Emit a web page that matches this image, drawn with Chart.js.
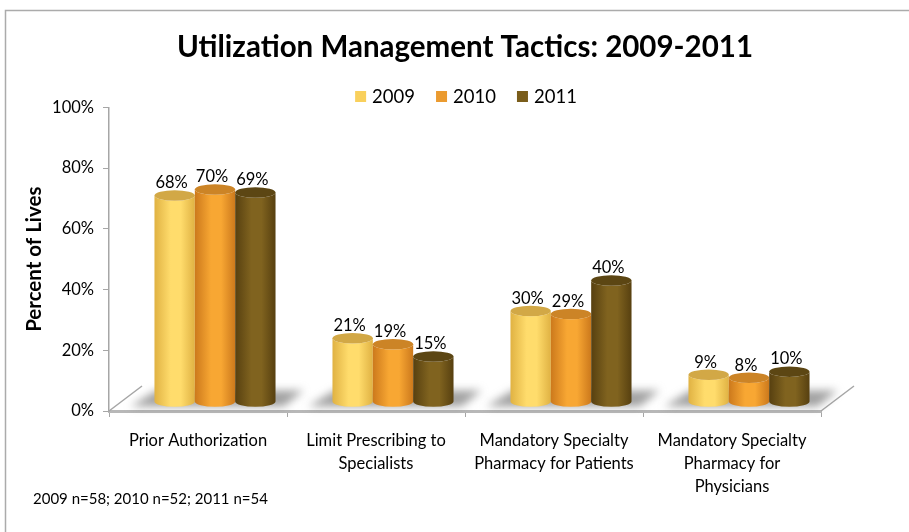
<!DOCTYPE html>
<html>
<head>
<meta charset="utf-8">
<script src="https://cdn.jsdelivr.net/npm/chart.js@4.4.1/dist/chart.umd.min.js"></script>
<style>
  html, body { margin: 0; padding: 0; background: #fff; }
  canvas { display: block; }
</style>
</head>
<body>
<canvas id="grafico" width="909" height="532"></canvas>
<script>
const categories = [
  ['Prior Authorization'],
  ['Limit Prescribing to', 'Specialists'],
  ['Mandatory Specialty', 'Pharmacy for Patients'],
  ['Mandatory Specialty', 'Pharmacy for', 'Physicians']
];
const years = ['2009', '2010', '2011'];
const values2009 = [68, 21, 30, 9];
const values2010 = [70, 19, 29, 8];
const values2011 = [69, 15, 40, 10];
const yTicks = [0, 20, 40, 60, 80, 100];

const FONT = 'Lato, "Open Sans", sans-serif';
const legendColors = ['#F9D05C', '#EB9B30', '#7A5D1B'];
const cylColors = [
  { light: '#FFDC6C', dark: '#E0B243', cap: '#D2A846' },
  { light: '#F8A733', dark: '#CC791C', cap: '#CC8426' },
  { light: '#80631F', dark: '#574010', cap: '#5C4613' }
];
// offset de profundidade (efeito 3D)
const DX = 17, DY = -9;

function desenharCilindro(ctx, cx, top, bottom, w, cor) {
  const rx = w / 2, ry = w * 0.13;
  const x0 = cx - rx;
  const g = ctx.createLinearGradient(x0, 0, x0 + w, 0);
  g.addColorStop(0, cor.dark);
  g.addColorStop(0.4, cor.light);
  g.addColorStop(0.65, cor.light);
  g.addColorStop(1, cor.dark);
  ctx.beginPath();
  ctx.moveTo(x0, top);
  ctx.lineTo(x0, bottom);
  ctx.ellipse(cx, bottom, rx, ry, 0, Math.PI, 0, true);
  ctx.lineTo(x0 + w, top);
  ctx.ellipse(cx, top, rx, ry, 0, 0, Math.PI, false);
  ctx.closePath();
  ctx.fillStyle = g;
  ctx.fill();
  ctx.beginPath();
  ctx.ellipse(cx, top, rx, ry, 0, 0, Math.PI * 2);
  ctx.fillStyle = cor.cap;
  ctx.fill();
}

const cilindros = {
  id: 'cilindros',
  beforeDraw(chart) {
    const ctx = chart.ctx;
    ctx.save();
    ctx.fillStyle = '#fff';
    ctx.fillRect(0, 0, chart.width, chart.height);
    ctx.strokeStyle = '#ababab';
    ctx.lineWidth = 1.5;
    ctx.strokeRect(5.5, 10.5, 1000, 1000);
    ctx.restore();
  },
  afterDatasetsDraw(chart) {
    const ctx = chart.ctx;
    const area = chart.chartArea;
    ctx.save();
    // laterais do piso
    ctx.strokeStyle = '#a6a6a6';
    ctx.lineWidth = 1.5;
    ctx.beginPath();
    ctx.moveTo(area.left, area.bottom);
    ctx.lineTo(area.left + 33, area.bottom - 25);
    ctx.moveTo(area.right, area.bottom);
    ctx.lineTo(area.right + 33, area.bottom - 25);
    ctx.stroke();

    const nSeries = years.length;
    for (let i = 0; i < categories.length; i++) {
      const first = chart.getDatasetMeta(0).data[i];
      const last = chart.getDatasetMeta(nSeries - 1).data[i];
      const x0 = first.x - first.width / 2 + DX;
      const x1 = last.x + last.width / 2 + DX;
      const base = first.base + DY;
      ctx.save();
      ctx.filter = 'blur(4px)';
      ctx.fillStyle = 'rgba(110,110,110,0.65)';
      ctx.beginPath();
      ctx.moveTo(x0 - 24, base + 5);
      ctx.lineTo(x1 + 8, base + 5);
      ctx.lineTo(x1 + 28, base - 11);
      ctx.lineTo(x0 + 2, base - 11);
      ctx.closePath();
      ctx.fill();
      ctx.restore();
    }

    for (let i = 0; i < categories.length; i++) {
      for (let s = 0; s < nSeries; s++) {
        const el = chart.getDatasetMeta(s).data[i];
        const cx = el.x + DX;
        const top = el.y + DY;
        const bottom = el.base + DY;
        desenharCilindro(ctx, cx, top, bottom, el.width, cylColors[s]);
        const v = chart.data.datasets[s].data[i];
        ctx.fillStyle = '#000';
        ctx.font = '16.5px ' + FONT;
        ctx.textAlign = 'center';
        ctx.textBaseline = 'bottom';
        ctx.fillText(v + '%', cx - 3, top - el.width * 0.13 + 1);
      }
    }

    // legenda
    ctx.font = '18.5px ' + FONT;
    ctx.textBaseline = 'middle';
    ctx.textAlign = 'left';
    const box = 11, gapBox = 6, gapItem = 21;
    const widths = years.map(y => ctx.measureText(y).width);
    const total = widths.reduce((a, w) => a + box + gapBox + w, 0) + gapItem * (years.length - 1);
    let lx = 466 - total / 2;
    years.forEach((y, i) => {
      ctx.fillStyle = legendColors[i];
      ctx.fillRect(lx, 91, box, box);
      ctx.fillStyle = '#000';
      ctx.fillText(y, lx + box + gapBox, 97);
      lx += box + gapBox + widths[i] + gapItem;
    });

    ctx.fillStyle = '#000';
    ctx.font = '15px ' + FONT;
    ctx.textAlign = 'left';
    ctx.textBaseline = 'middle';
    ctx.fillText('2009 n=58; 2010 n=52; 2011 n=54', 33, 499);
    ctx.restore();
  }
};

const ctx = document.getElementById('grafico').getContext('2d');
new Chart(ctx, {
  type: 'bar',
  data: {
    labels: categories,
    datasets: [
      { label: years[0], data: values2009 },
      { label: years[1], data: values2010 },
      { label: years[2], data: values2011 }
    ].map(d => ({ ...d, backgroundColor: 'rgba(0,0,0,0)', borderWidth: 0 }))
  },
  options: {
    responsive: false,
    animation: false,
    devicePixelRatio: 1,
    layout: { padding: { left: 20, right: 88, top: 30, bottom: 0 } },
    datasets: { bar: { categoryPercentage: 0.68, barPercentage: 1 } },
    plugins: {
      title: {
        display: true,
        fullSize: false,
        text: 'Utilization Management Tactics: 2009-2011',
        color: '#000',
        font: { family: FONT, size: 29.5, weight: 'bold' },
        padding: { top: 0, bottom: 42 }
      },
      legend: { display: false },
      tooltip: { enabled: false }
    },
    scales: {
      x: {
        afterFit: s => { s.height = 121; },
        grid: { drawOnChartArea: false, tickLength: 6, color: '#a6a6a6' },
        border: { color: '#b8b8b8', width: 3 },
        ticks: { color: '#000', font: { family: FONT, size: 16.5, lineHeight: 1.4 }, padding: 12, maxRotation: 0 }
      },
      y: {
        min: 0,
        max: 100,
        afterBuildTicks: s => { s.ticks = yTicks.map(v => ({ value: v })); },
        afterFit: s => { s.width = 89; },
        grid: { drawOnChartArea: false, tickLength: 6, color: '#a6a6a6' },
        border: { color: '#a6a6a6', width: 1.5 },
        ticks: { color: '#000', font: { family: FONT, size: 16.5 }, padding: 9, callback: v => v + '%' },
        title: {
          display: true,
          text: 'Percent of Lives',
          color: '#000',
          font: { family: FONT, size: 20.5, weight: 'bold' },
          padding: { top: 2, bottom: 0 }
        }
      }
    }
  },
  plugins: [cilindros]
});
</script>
</body>
</html>
